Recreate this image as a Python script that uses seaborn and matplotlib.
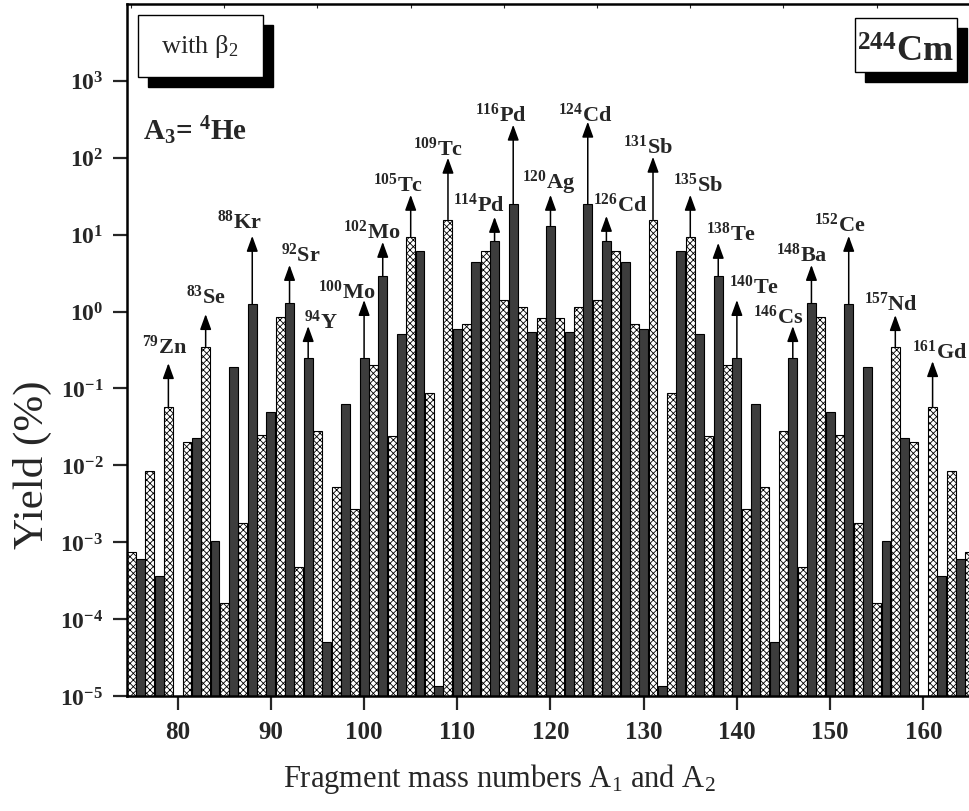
import numpy as np
import pandas as pd
import matplotlib
matplotlib.use("Agg")
import matplotlib.pyplot as plt
import seaborn as sns
from matplotlib.patches import Rectangle
from matplotlib.ticker import FixedLocator, MultipleLocator, LogLocator, NullFormatter

# ---------------- data ----------------
mass = list(range(75, 166))
yield_pct = [
    7.4e-4, 6.0e-4, 8.5e-3, 3.6e-4, 5.7e-2, np.nan, 2.0e-2, 2.3e-2, 0.35, 1.05e-3,   # 75-84
    1.6e-4, 0.19, 1.8e-3, 1.25, 2.5e-2, 5.0e-2, 0.86, 1.28, 4.8e-4, 0.25,            # 85-94
    2.8e-2, 5.1e-5, 5.2e-3, 6.2e-2, 2.7e-3, 0.25, 0.20, 2.87, 2.4e-2, 0.51,          # 95-104
    9.4, 6.2, 8.7e-2, 1.33e-5, 15.7, 0.60, 0.69, 4.4, 6.1, 8.2,                      # 105-114
    1.43, 25.2, 1.13, 0.55, 0.82, 13.1, 0.82, 0.55, 1.13, 25.2,                      # 115-124
    1.43, 8.2, 6.1, 4.4, 0.69, 0.60, 15.7, 1.33e-5, 8.7e-2, 6.2,                     # 125-134
    9.4, 0.51, 2.4e-2, 2.87, 0.20, 0.25, 2.7e-3, 6.2e-2, 5.2e-3, 5.1e-5,             # 135-144
    2.8e-2, 0.25, 4.8e-4, 1.28, 0.86, 5.0e-2, 2.5e-2, 1.25, 1.8e-3, 0.19,            # 145-154
    1.6e-4, 1.05e-3, 0.35, 2.3e-2, 2.0e-2, np.nan, 5.7e-2, 3.6e-4, 8.5e-3, 6.0e-4,   # 155-164
    7.4e-4,                                                                           # 165
]
label_mass = [79, 83, 88, 92, 94, 100, 102, 105, 109, 114, 116, 120,
              124, 126, 131, 135, 138, 140, 146, 148, 152, 157, 161]
label_elem = ['Zn', 'Se', 'Kr', 'Sr', 'Y', 'Mo', 'Mo', 'Tc', 'Tc', 'Pd', 'Pd', 'Ag',
              'Cd', 'Cd', 'Sb', 'Sb', 'Te', 'Te', 'Cs', 'Ba', 'Ce', 'Nd', 'Gd']
x_ticks = [80, 90, 100, 110, 120, 130, 140, 150, 160]
y_exponents = [-5, -4, -3, -2, -1, 0, 1, 2, 3]

# -------------- layout (label placement) --------------
label_x = [78.64, 83.04, 86.68, 93.23, 95.37, 98.17, 100.85, 103.64, 107.93, 112.33, 114.69, 119.84,
           123.70, 127.46, 130.46, 135.83, 139.37, 141.84, 144.41, 146.99, 151.06, 156.54, 161.80]
label_logy = [-0.541, 0.111, 1.088, 0.658, -0.215, 0.176, 0.958, 1.570, 2.039, 1.309, 2.482, 1.609,
              2.482, 1.309, 2.065, 1.570, 0.932, 0.241, -0.150, 0.658, 1.049, 0.020, -0.606]
arrow_logy = [-0.671, -0.033, 0.984, 0.606, -0.189, 0.150, 0.906, 1.518, 2.0, 1.231, 2.430, 1.518,
              2.469, 1.244, 2.013, 1.518, 0.893, 0.150, -0.189, 0.606, 0.984, -0.046, -0.645]

# ---------------- style ----------------
sns.set_style("ticks")
plt.rcParams['font.family'] = ['Liberation Serif', 'DejaVu Serif']
plt.rcParams['mathtext.fontset'] = 'custom'
plt.rcParams['mathtext.rm'] = 'Liberation Serif'
plt.rcParams['mathtext.it'] = 'Liberation Serif:italic'
plt.rcParams['mathtext.bf'] = 'Liberation Serif:bold'
plt.rcParams['hatch.linewidth'] = 0.6
plt.rcParams['hatch.color'] = 'black'

df = pd.DataFrame({'A': mass, 'Y': yield_pct})
df = df.dropna()
df['parity'] = np.where(df['A'] % 2 == 1, 'odd', 'even')

fig = plt.figure(figsize=(9.69, 8.12), dpi=100)
ax = fig.add_axes([127 / 969, 115 / 812, 848 / 969, 692 / 812])

sns.barplot(data=df, x='A', y='Y', hue='parity', hue_order=['odd', 'even'],
            palette={'odd': 'white', 'even': '#3d3d3d'}, native_scale=True,
            dodge=False, width=0.96, errorbar=None, saturation=1,
            edgecolor='black', linewidth=0.8, legend=False, ax=ax)
ax.set_yscale('log', nonpositive='clip')

for bar in ax.containers[0]:
    bar.set_hatch('xxxxx')
    bar.set_facecolor('white')
    bar.set_edgecolor('black')

ax.set_xlim(74.56, 165.55)
ax.set_ylim(1e-5, 1e4)

# ticks
ax.xaxis.set_major_locator(FixedLocator(x_ticks))
ax.set_xticklabels([str(t) for t in x_ticks], fontsize=18, fontweight='bold')
ax.xaxis.set_minor_locator(MultipleLocator(5))
ax.yaxis.set_major_locator(FixedLocator([10.0 ** e for e in y_exponents]))
ax.set_yticklabels([r'$\mathbf{10^{%d}}$' % e for e in y_exponents], fontsize=17)
ax.yaxis.set_minor_locator(LogLocator(base=10, subs=np.arange(2, 10)))
ax.yaxis.set_minor_formatter(NullFormatter())
ax.tick_params(which='major', direction='out', length=10, width=1.6, pad=7,
               bottom=True, left=True, top=False, right=False)
ax.tick_params(axis='x', which='minor', direction='in', length=3, width=0.8,
               bottom=True, top=True)
ax.tick_params(axis='y', which='minor', direction='in', length=3, width=0.8,
               left=True, right=False)
for s in ['left', 'bottom', 'top', 'right']:
    ax.spines[s].set_linewidth(1.8)
    ax.spines[s].set_color('black')
ax.set_xlabel('')
ax.set_ylabel('')

# arrows and isotope labels
val = dict(zip(mass, yield_pct))
for A, el, lx, ly, ay in zip(label_mass, label_elem, label_x, label_logy, arrow_logy):
    ax.annotate('', xy=(A, 10 ** ay), xytext=(A, val[A]),
                arrowprops=dict(arrowstyle='-|>,head_length=0.55,head_width=0.2',
                                color='black', lw=1.1, mutation_scale=17,
                                shrinkA=0, shrinkB=0))
    ax.text(lx, 10 ** ly, r'$^{\mathbf{%d}}\mathbf{%s}$' % (A, el),
            ha='center', va='baseline', fontsize=16)

# axis titles
fig.text(32 / 969, 1 - 465 / 812, 'Yield (%)', rotation=90, ha='center', va='center',
         fontsize=31)
fig.text(499 / 969, 1 - 787 / 812, r'Fragment mass numbers A$_1$ and A$_2$',
         ha='center', va='baseline', fontsize=22)

# boxes with shadows (figure pixel coords)
def shadow_box(x0, y0, x1, y1, off=10):
    fig.patches.append(Rectangle((x0 / 969 + off / 969, 1 - (y1 + off) / 812),
                                 (x1 - x0) / 969, (y1 - y0) / 812,
                                 transform=fig.transFigure, facecolor='black',
                                 edgecolor='black', zorder=5))
    fig.patches.append(Rectangle((x0 / 969, 1 - y1 / 812), (x1 - x0) / 969, (y1 - y0) / 812,
                                 transform=fig.transFigure, facecolor='white',
                                 edgecolor='black', linewidth=1.0, zorder=6))

shadow_box(138, 16, 263, 78)
fig.text(200 / 969, 1 - 47 / 812, r'with β$_2$', ha='center', va='center',
         fontsize=19, zorder=7)
shadow_box(855, 19, 957, 73)
fig.text(905 / 969, 1 - 62 / 812, r'$^{\mathbf{244}}\mathbf{Cm}$', ha='center',
         va='baseline', fontsize=26, zorder=7)

fig.text(143 / 969, 1 - 140 / 812, r'$\mathbf{A_3}$= $^{\mathbf{4}}\mathbf{He}$',
         ha='left', va='baseline', fontsize=21, fontweight='bold')

fig.savefig('out.png', dpi=100)
